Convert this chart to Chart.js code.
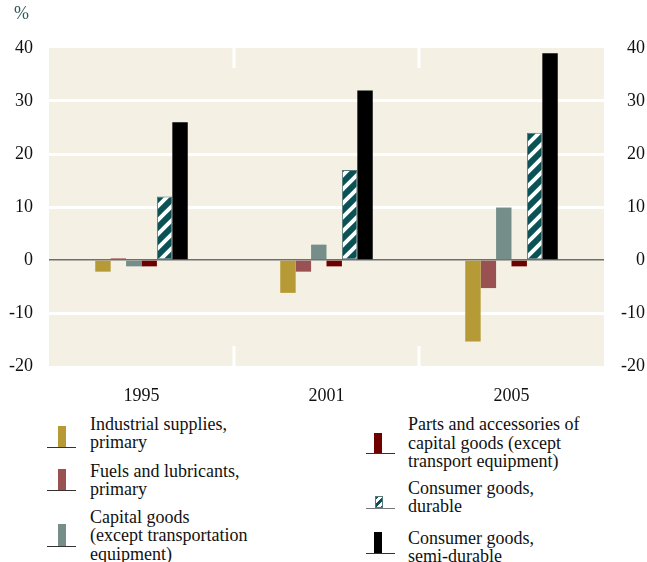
<!DOCTYPE html>
<html>
<head>
<meta charset="utf-8">
<script src="https://cdn.jsdelivr.net/npm/chart.js@4/dist/chart.umd.min.js"></script>
<style>
html,body{margin:0;padding:0;background:#ffffff;}
#wrap{position:relative;width:647px;height:562px;font-family:'Liberation Serif','Times New Roman',serif;color:#111;overflow:hidden;}
#c{position:absolute;left:0;top:0;}
.pct{position:absolute;left:14px;top:3px;font-size:18px;line-height:20px;color:#2d5b57;}
.lg{position:absolute;font-size:18px;line-height:18.5px;white-space:nowrap;color:#111;}
.icbar{position:absolute;width:8px;}
.icbase{position:absolute;height:1.5px;width:29px;}
</style>
</head>
<body>
<div id="wrap">
  <canvas id="c" width="647" height="410" style="width:647px;height:410px"></canvas>
  <div class="pct">%</div>
  <div id="legend"></div>
</div>
<script>
// ---------- data ----------
const categories = ['1995', '2001', '2005'];
const industrialSupplies = [-2.2, -6.2, -15.4];
const fuelsLubricants = [0.3, -2.2, -5.3];
const capitalGoods = [-1.2, 2.9, 9.9];
const partsAccessories = [-1.2, -1.2, -1.2];
const consumerDurable = [12, 17, 24];
const consumerSemiDurable = [26, 32, 39];
const yTickValues = [-20, -10, 0, 10, 20, 30, 40];

const seriesLabels = [
  ['Industrial supplies,', 'primary'],
  ['Fuels and lubricants,', 'primary'],
  ['Capital goods', '(except transportation', 'equipment)'],
  ['Parts and accessories of', 'capital goods (except', 'transport equipment)'],
  ['Consumer goods,', 'durable'],
  ['Consumer goods,', 'semi-durable']
];

// ---------- styles ----------
const FONT = "'Liberation Serif', 'Times New Roman', serif";
const BG = '#f4f1e4';
const colors = ['#b59a35', '#9a5152', '#768e89', '#6e0000', null, '#000000'];
const TEAL = '#0b5257';

function makeHatch() {
  const P = 14;
  const c = document.createElement('canvas');
  c.width = P; c.height = P;
  const g = c.getContext('2d');
  g.fillStyle = TEAL; g.fillRect(0, 0, P, P);
  g.strokeStyle = '#ffffff'; g.lineWidth = 4;
  g.beginPath();
  g.moveTo(0, P); g.lineTo(P, 0);
  g.moveTo(-2, 2); g.lineTo(2, -2);
  g.moveTo(P - 2, P + 2); g.lineTo(P + 2, P - 2);
  g.stroke();
  return g.createPattern(c, 'repeat');
}
const hatch = makeHatch();

const seriesValues = [industrialSupplies, fuelsLubricants, capitalGoods, partsAccessories, consumerDurable, consumerSemiDurable];

const datasets = seriesValues.map((vals, i) => ({
  label: seriesLabels[i].join(' '),
  data: vals,
  backgroundColor: i === 4 ? hatch : colors[i],
  borderColor: i === 4 ? '#56797a' : colors[i],
  borderWidth: i === 4 ? 1 : 0,
  borderSkipped: false,
  categoryPercentage: 0.5,
  barPercentage: 1.0
}));

const areaPlugin = {
  id: 'areaPlugin',
  beforeDraw(chart) {
    const { ctx, chartArea: a } = chart;
    ctx.save();
    ctx.fillStyle = BG;
    ctx.fillRect(a.left, a.top, a.right - a.left, a.bottom - a.top);
    ctx.restore();
  },
  beforeDatasetsDraw(chart) {
    const { ctx, chartArea: a } = chart;
    const xs = chart.scales.x;
    ctx.save();
    ctx.fillStyle = '#ffffff';
    for (let i = 0; i < categories.length - 1; i++) {
      const bx = (xs.getPixelForValue(i) + xs.getPixelForValue(i + 1)) / 2;
      ctx.fillRect(bx - 1.5, a.top, 3, 20);
      ctx.fillRect(bx - 1.5, a.bottom - 20, 3, 20);
    }
    ctx.restore();
  }
};

const yTickCfg = {
  stepSize: 10,
  color: '#111111',
  font: { family: FONT, size: 18 },
  callback: v => String(v)
};

new Chart(document.getElementById('c'), {
  type: 'bar',
  data: { labels: categories, datasets },
  plugins: [areaPlugin],
  options: {
    responsive: false,
    animation: false,
    layout: { padding: { top: 48, right: 2, left: 0, bottom: 0 } },
    plugins: { legend: { display: false }, tooltip: { enabled: false } },
    scales: {
      x: {
        grid: { display: false },
        border: { display: false },
        ticks: { color: '#111111', font: { family: FONT, size: 18 }, padding: 11 },
        afterFit(s) { s.height = 44; }
      },
      y: {
        position: 'left',
        min: yTickValues[0], max: yTickValues[yTickValues.length - 1],
        border: { display: false },
        grid: {
          drawTicks: false,
          color: c => c.tick.value === 0 ? '#6e6e6e' : ((c.tick.value === yTickValues[0] || c.tick.value === yTickValues[yTickValues.length - 1]) ? 'rgba(0,0,0,0)' : '#ffffff'),
          lineWidth: c => c.tick.value === 0 ? 1.5 : 3
        },
        ticks: Object.assign({ padding: 16 }, yTickCfg),
        afterFit(s) { s.width = 49; }
      },
      y2: {
        position: 'right',
        min: yTickValues[0], max: yTickValues[yTickValues.length - 1],
        border: { display: false },
        grid: { display: false, drawTicks: false },
        ticks: Object.assign({ padding: 16, crossAlign: 'far' }, yTickCfg),
        afterFit(s) { s.width = 41; }
      }
    }
  }
});

// ---------- legend (HTML text) ----------
const legendPos = [
  { tx: 90, ty: 414.5, bx: 58, bTop: 426, baseY: 447, lx: 47 },
  { tx: 90, ty: 461.5, bx: 58, bTop: 469, baseY: 490, lx: 47 },
  { tx: 90, ty: 507.5, bx: 58, bTop: 524, baseY: 546, lx: 47 },
  { tx: 408, ty: 415, bx: 374, bTop: 433, baseY: 453, lx: 366 },
  { tx: 408, ty: 478.5, bx: 375, bTop: 496, baseY: 508, lx: 366 },
  { tx: 408, ty: 528.5, bx: 374, bTop: 532, baseY: 553, lx: 366 }
];
const lg = document.getElementById('legend');
seriesLabels.forEach((lines, i) => {
  const p = legendPos[i];
  const t = document.createElement('div');
  t.className = 'lg';
  t.style.left = p.tx + 'px'; t.style.top = p.ty + 'px';
  t.innerHTML = lines.join('<br>');
  lg.appendChild(t);
  const b = document.createElement('div');
  b.className = 'icbar';
  b.style.left = p.bx + 'px'; b.style.top = p.bTop + 'px';
  b.style.height = (p.baseY - p.bTop) + 'px';
  if (i === 4) {
    b.style.background = 'repeating-linear-gradient(135deg,' + TEAL + ' 0 3px,#ffffff 3px 6px)';
    b.style.boxShadow = 'inset 0 0 0 1px #56797a';
  } else {
    b.style.background = colors[i];
  }
  lg.appendChild(b);
  const l = document.createElement('div');
  l.className = 'icbase';
  l.style.left = p.lx + 'px'; l.style.top = (p.baseY - 0.5) + 'px';
  l.style.background = i === 4 ? '#777777' : '#333333';
  lg.appendChild(l);
});
</script>
</body>
</html>
